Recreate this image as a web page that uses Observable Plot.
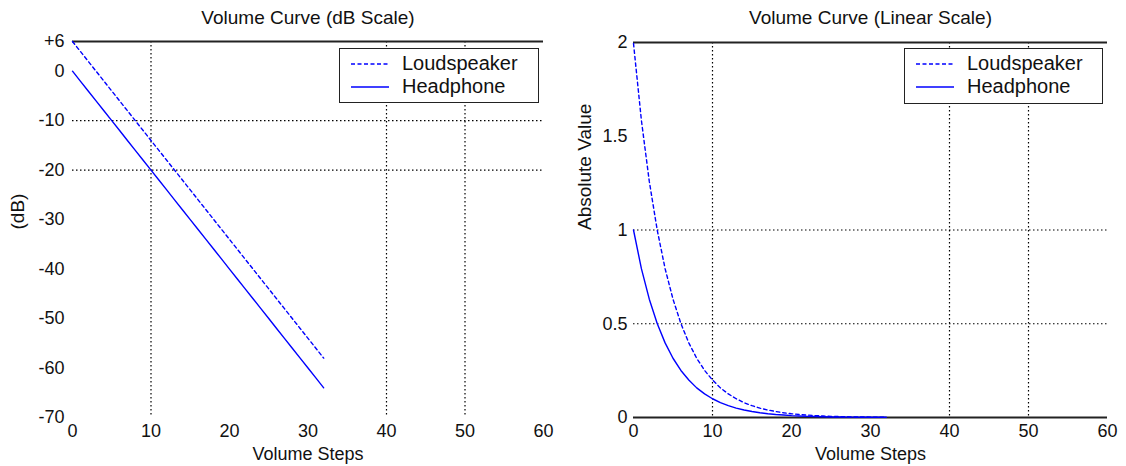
<!DOCTYPE html>
<html>
<head>
<meta charset="utf-8">
<script src="https://cdn.jsdelivr.net/npm/d3@7"></script>
<script src="https://cdn.jsdelivr.net/npm/@observablehq/plot@0.6"></script>
<style>
  html, body { margin: 0; padding: 0; background: #fff; }
  #wrap { position: relative; width: 1126px; height: 466px; font-family: "Liberation Sans", Arial, sans-serif; }
  .panel { position: absolute; top: 0; }
  .legend { position: absolute; border: 1.5px solid #222; background: #fff; box-sizing: border-box; font-size: 20px; color: #111; }
  .legend .item { position: absolute; left: 0; white-space: nowrap; }
  .legend svg { position: absolute; }
  .legend span { position: absolute; left: 62px; line-height: 20px; }
</style>
</head>
<body>
<div id="wrap"></div>
<script>
// ---- data ----
const steps = [0,1,2,3,4,5,6,7,8,9,10,11,12,13,14,15,16,17,18,19,20,21,22,23,24,25,26,27,28,29,30,31,32];
const loudspeakerDb = [6,4,2,0,-2,-4,-6,-8,-10,-12,-14,-16,-18,-20,-22,-24,-26,-28,-30,-32,-34,-36,-38,-40,-42,-44,-46,-48,-50,-52,-54,-56,-58];
const headphoneDb = [0,-2,-4,-6,-8,-10,-12,-14,-16,-18,-20,-22,-24,-26,-28,-30,-32,-34,-36,-38,-40,-42,-44,-46,-48,-50,-52,-54,-56,-58,-60,-62,-64];
const loudspeakerLin = [1.995,1.585,1.259,1.000,0.794,0.631,0.501,0.398,0.316,0.251,0.200,0.158,0.126,0.100,0.079,0.063,0.050,0.040,0.032,0.025,0.020,0.016,0.013,0.010,0.008,0.006,0.005,0.004,0.003,0.003,0.002,0.002,0.002];
const headphoneLin = [1.000,0.794,0.631,0.501,0.398,0.316,0.251,0.200,0.158,0.126,0.100,0.079,0.063,0.050,0.040,0.032,0.025,0.020,0.016,0.013,0.010,0.008,0.006,0.005,0.004,0.003,0.003,0.002,0.002,0.001,0.001,0.001,0.001];
const seriesNames = ["Loudspeaker", "Headphone"];
const xTicks = [0,10,20,30,40,50,60];
const dbTicks = [6,0,-10,-20,-30,-40,-50,-60,-70];
const linTicks = [0,0.5,1,1.5,2];
const xGrid = [10,40,50];
const dbGrid = [-10,-20];
const linGrid = [0.5,1];
const titles = ["Volume Curve (dB Scale)", "Volume Curve (Linear Scale)"];
const xLabel = "Volume Steps";
const yLabels = ["(dB)", "Absolute Value"];

const BLUE = "#0000ff";
const DASH = "3.5,3";
const GRID = "1.5,2.5";
const FONT = "Liberation Sans, Arial, sans-serif";

function rows(ys) { return steps.map((s, i) => ({x: s, y: ys[i]})); }

const common = {
  width: 563, height: 466,
  style: {fontFamily: FONT, fontSize: "18px", background: "transparent", color: "#111", overflow: "visible"}
};

const left = Plot.plot({
  ...common,
  marginLeft: 72, marginRight: 20, marginTop: 41, marginBottom: 49,
  x: {domain: [0, 60], ticks: xTicks, tickSize: 0, tickPadding: 7, label: null, tickFormat: d => String(d)},
  y: {domain: [-70, 6], ticks: dbTicks, tickSize: 0, tickPadding: 8, label: null, tickFormat: d => d > 0 ? "+" + d : String(d)},
  marks: [
    Plot.ruleX(xGrid, {stroke: "#000", strokeDasharray: GRID, strokeWidth: 1.2}),
    Plot.ruleY(dbGrid, {stroke: "#000", strokeDasharray: GRID, strokeWidth: 1.2}),
    Plot.ruleY([6], {stroke: "#222", strokeWidth: 2}),
    Plot.line(rows(loudspeakerDb), {x: "x", y: "y", stroke: BLUE, strokeWidth: 1.4, strokeDasharray: DASH}),
    Plot.line(rows(headphoneDb), {x: "x", y: "y", stroke: BLUE, strokeWidth: 1.4}),
    Plot.text([titles[0]], {frameAnchor: "top", lineAnchor: "middle", dy: -24, fontSize: 19}),
    Plot.text([xLabel], {frameAnchor: "bottom", lineAnchor: "middle", dy: 37, fontSize: 18}),
    Plot.text([yLabels[0]], {frameAnchor: "left", rotate: -90, dx: -55, dy: 0, fontSize: 19})
  ]
});

const right = Plot.plot({
  ...common,
  marginLeft: 70, marginRight: 19, marginTop: 42, marginBottom: 49,
  x: {domain: [0, 60], ticks: xTicks, tickSize: 0, tickPadding: 7, label: null, tickFormat: d => String(d)},
  y: {domain: [0, 2], ticks: linTicks, tickSize: 0, tickPadding: 6, label: null, tickFormat: d => String(d)},
  marks: [
    Plot.ruleX(xGrid, {stroke: "#000", strokeDasharray: GRID, strokeWidth: 1.2}),
    Plot.ruleY(linGrid, {stroke: "#000", strokeDasharray: GRID, strokeWidth: 1.2}),
    Plot.ruleY([2], {stroke: "#222", strokeWidth: 2}),
    Plot.ruleY([0], {stroke: "#222", strokeWidth: 2}),
    Plot.line(rows(loudspeakerLin), {x: "x", y: "y", stroke: BLUE, strokeWidth: 1.4, strokeDasharray: DASH}),
    Plot.line(rows(headphoneLin), {x: "x", y: "y", stroke: BLUE, strokeWidth: 1.4}),
    Plot.text([titles[1]], {frameAnchor: "top", lineAnchor: "middle", dy: -25, fontSize: 19}),
    Plot.text([xLabel], {frameAnchor: "bottom", lineAnchor: "middle", dy: 37, fontSize: 18}),
    Plot.text([yLabels[1]], {frameAnchor: "left", rotate: -90, dx: -49, dy: 0, fontSize: 19})
  ]
});

const wrap = document.getElementById("wrap");
function addPanel(svg, x) {
  const d = document.createElement("div");
  d.className = "panel";
  d.style.left = x + "px";
  d.appendChild(svg);
  wrap.appendChild(d);
}
addPanel(left, 0);
addPanel(right, 563);

function addLegend(x, y, w, h) {
  const lg = document.createElement("div");
  lg.className = "legend";
  Object.assign(lg.style, {left: x + "px", top: y + "px", width: w + "px", height: h + "px"});
  seriesNames.forEach((name, i) => {
    const cy = 15 + i * 23;
    const item = document.createElement("div");
    item.className = "item";
    item.style.top = "0px";
    item.innerHTML = `<svg width="40" height="10" style="left:11px;top:${cy - 5}px"><line x1="0" y1="5" x2="38" y2="5" stroke="${BLUE}" stroke-width="1.6" ${i === 0 ? 'stroke-dasharray="4,2.5"' : ''}/></svg><span style="top:${cy - 11}px">${name}</span>`;
    lg.appendChild(item);
  });
  wrap.appendChild(lg);
}
addLegend(339, 48, 200, 55);
addLegend(904, 48, 199, 56);
</script>
</body>
</html>
